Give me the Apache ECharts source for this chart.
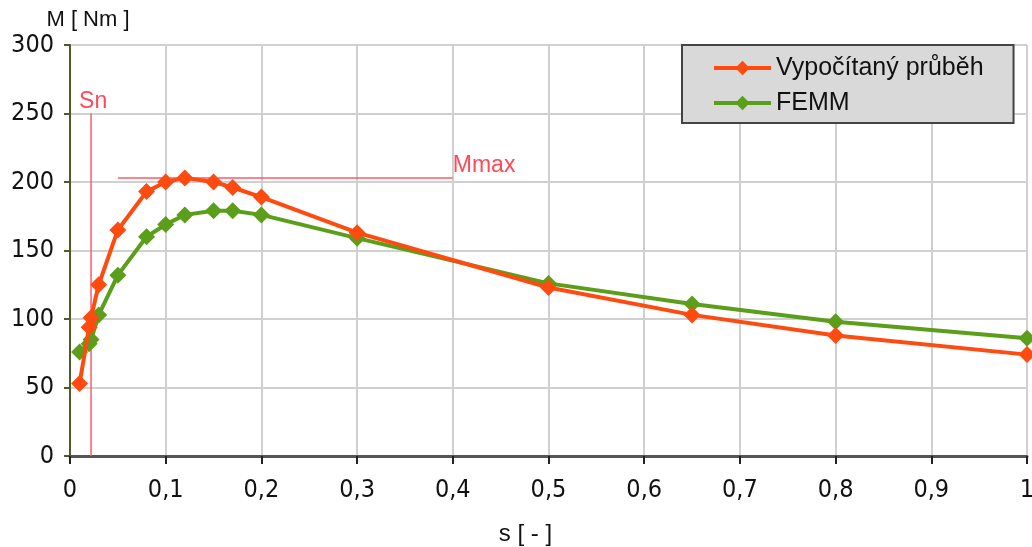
<!DOCTYPE html>
<html><head><meta charset="utf-8">
<script src="https://cdn.jsdelivr.net/npm/echarts@6/dist/echarts.min.js"></script>
<style>html,body{margin:0;padding:0;background:#fff}#c{width:1032px;height:547px}</style>
</head><body><div id="c"></div>
<script>
const sVypocet = [0.01, 0.02, 0.022, 0.03, 0.05, 0.08, 0.1, 0.12, 0.15, 0.17, 0.2, 0.3, 0.5, 0.65, 0.8, 1.0];
const mVypocet = [53, 94, 101, 125, 165, 193, 200, 203, 200, 196, 189, 163, 123, 103, 88, 74];
const sFemm = [0.01, 0.02, 0.022, 0.03, 0.05, 0.08, 0.1, 0.12, 0.15, 0.17, 0.2, 0.3, 0.5, 0.65, 0.8, 1.0];
const mFemm = [76, 82, 85, 103, 132, 160, 169, 176, 179, 179, 176, 159, 126, 111, 98, 86];
const snLine = [[0.022, 0], [0.022, 250]];
const mmaxLine = [[0.05, 203], [0.4, 203]];
const snLabel = 'Sn';
const mmaxLabel = 'Mmax';
const seriesNames = ['Vypočítaný průběh', 'FEMM'];
const xTicks = [0, 0.1, 0.2, 0.3, 0.4, 0.5, 0.6, 0.7, 0.8, 0.9, 1];
const yTicks = [0, 50, 100, 150, 200, 250, 300];

const font = 'Liberation Sans, Arial, sans-serif';
const narrow = '"Liberation Sans Narrow", "Arial Narrow", "DejaVu Sans Condensed", sans-serif';
const chart = echarts.init(document.getElementById('c'));
const zip = (a, b) => a.map((v, i) => [v, b[i]]);
chart.setOption({
  animation: false,
  grid: {left: 70, top: 45, width: 957, height: 411, containLabel: false, outerBoundsMode: 'none'},
  legend: {
    left: 682, top: 45, orient: 'vertical',
    data: seriesNames,
    backgroundColor: '#d9d9d9', borderColor: '#444', borderWidth: 2,
    padding: [8, 30, 5, 30], itemGap: 5, itemWidth: 57, itemHeight: 18,
    lineStyle: {width: 4},
    textStyle: {fontFamily: font, fontSize: 25, lineHeight: 30, color: '#111'}
  },
  xAxis: {
    type: 'value', min: 0, max: 1, interval: 0.1,
    name: 's [ - ]', nameLocation: 'middle', nameGap: 66,
    nameTextStyle: {fontFamily: font, fontSize: 24, color: '#111', padding: [0, 46, 0, 0]},
    axisLine: {show: true, lineStyle: {color: '#555', width: 3}},
    axisTick: {show: true, length: 8, lineStyle: {color: '#222', width: 2}},
    axisLabel: {fontFamily: narrow, fontSize: 25, color: '#111', margin: 22,
      formatter: v => String(Math.round(v * 10) / 10).replace('.', ',')},
    splitLine: {show: true, lineStyle: {color: '#d0d0d0', width: 2}}
  },
  yAxis: {
    type: 'value', min: 0, max: 300, interval: 50,
    name: 'M [ Nm ]', nameLocation: 'end', nameGap: 14,
    nameTextStyle: {fontFamily: font, fontSize: 22, color: '#111', align: 'center', padding: [0, 0, 0, 36]},
    axisLine: {show: true, lineStyle: {color: '#4f5a2a', width: 2}},
    axisTick: {show: true, length: 6, lineStyle: {color: '#4f5a2a', width: 2}},
    axisLabel: {fontFamily: narrow, fontSize: 25, color: '#111', margin: 16},
    splitLine: {show: true, lineStyle: {color: '#d0d0d0', width: 2}}
  },
  series: [
    {
      name: seriesNames[1], type: 'line', data: zip(sFemm, mFemm),
      symbol: 'diamond', symbolSize: 17, showAllSymbol: true,
      lineStyle: {color: '#5a9e1a', width: 4}, itemStyle: {color: '#5a9e1a'}, z: 3
    },
    {
      name: seriesNames[0], type: 'line', data: zip(sVypocet, mVypocet),
      symbol: 'diamond', symbolSize: 17, showAllSymbol: true,
      lineStyle: {color: '#ff4a10', width: 4}, itemStyle: {color: '#ff4a10'}, z: 4
    },
    {
      name: 'sn', type: 'line', data: snLine, symbol: 'none', silent: true, z: 2,
      lineStyle: {color: '#ff5a6a', width: 1.5},
      endLabel: {show: true, formatter: snLabel, fontFamily: font, fontSize: 23, color: '#ff4a5a', offset: [-20, -12]}
    },
    {
      name: 'mmax', type: 'line', data: mmaxLine, symbol: 'none', silent: true, z: 2,
      lineStyle: {color: '#ff5a6a', width: 1.5},
      endLabel: {show: true, formatter: mmaxLabel, fontFamily: font, fontSize: 23, color: '#ff4a5a', offset: [-8, -12]}
    }
  ]
});
</script></body></html>
